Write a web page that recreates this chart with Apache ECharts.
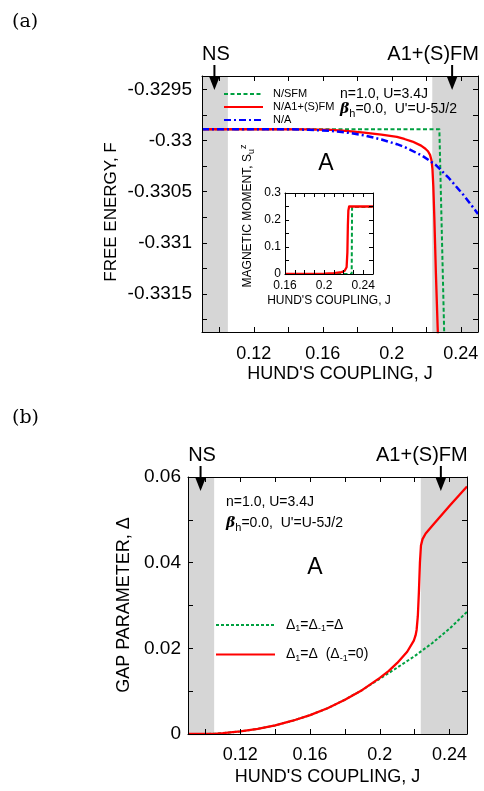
<!DOCTYPE html>
<html><head><meta charset="utf-8">
<script src="https://cdn.jsdelivr.net/npm/echarts@6/dist/echarts.min.js"></script>
<style>html,body{margin:0;padding:0;background:#fff}#c{width:484px;height:791px}</style>
</head><body><div id="c"></div>
<script>
// ---------- DATA ----------
// Panel (a): free energy vs Hund's coupling
const jA_SFM = [0.09, 0.2276, 0.2305];
const fA_SFM = [-0.32989, -0.32989, -0.33195];
const jA_A1 = [0.09, 0.13, 0.15, 0.165, 0.175, 0.184, 0.194, 0.203, 0.2073, 0.212, 0.217, 0.2195, 0.2210, 0.2222, 0.2230, 0.2236, 0.2241, 0.2247, 0.2256, 0.2266, 0.2270];
const fA_A1 = [-0.32989, -0.32989, -0.329892, -0.329897, -0.329908, -0.329924, -0.329942, -0.329965, -0.329985, -0.33001, -0.33005, -0.33008, -0.330105, -0.33014, -0.33019, -0.33028, -0.33045, -0.33076, -0.33130, -0.33182, -0.3320];
const jA_A = [0.09, 0.14, 0.152, 0.1648, 0.175, 0.184, 0.194, 0.203, 0.2073, 0.2178, 0.2256, 0.2332, 0.2420, 0.2486, 0.25];
const fA_A = [-0.32989, -0.32989, -0.329895, -0.329906, -0.329925, -0.329950, -0.329990, -0.330036, -0.330062, -0.330150, -0.330240, -0.330368, -0.330540, -0.330685, -0.330718];
// Inset: magnetic moment
const jIn_SFM = [0.16, 0.2282, 0.2286, 0.25];
const mIn_SFM = [0, 0, 0.248, 0.248];
const jIn_A1 = [0.16, 0.20, 0.21, 0.218, 0.221, 0.223, 0.2238, 0.2243, 0.2248, 0.2256, 0.25];
const mIn_A1 = [0, 0.001, 0.003, 0.007, 0.012, 0.025, 0.08, 0.18, 0.235, 0.25, 0.25];
// Panel (b): gap parameter
const jB_eq = [0.09, 0.10, 0.105, 0.11, 0.12, 0.13, 0.14, 0.15, 0.16, 0.17, 0.18, 0.19, 0.20, 0.21, 0.22, 0.23, 0.24, 0.25];
const dB_eq = [0, 0, 0.00005, 0.0002, 0.0006, 0.0012, 0.0020, 0.0031, 0.0044, 0.0060, 0.0080, 0.0103, 0.0129, 0.0155, 0.0182, 0.0212, 0.0246, 0.0285];
const jB_d1 = [0.09, 0.10, 0.105, 0.11, 0.12, 0.13, 0.14, 0.15, 0.16, 0.17, 0.18, 0.19, 0.20, 0.205, 0.21, 0.2157, 0.2195, 0.2205, 0.2211, 0.2218, 0.2224, 0.2230, 0.2236, 0.2245, 0.2263, 0.2307, 0.2403, 0.25];
const dB_d1 = [0, 0, 0.00005, 0.0002, 0.0006, 0.0012, 0.0020, 0.0031, 0.0044, 0.0060, 0.0080, 0.0103, 0.0131, 0.0147, 0.0166, 0.0192, 0.0218, 0.0230, 0.0243, 0.0275, 0.0330, 0.0400, 0.0440, 0.0455, 0.0468, 0.0489, 0.0534, 0.0578];
// shaded phase regions and arrow positions (J)
const shadeRanges = [[0.09, 0.105], [0.2235, 0.25]];
const arrowJ = [0.0972, 0.2350];
// axis ranges / ticks / labels
const xRange = [0.09, 0.25];
const xTicks = [0.10, 0.12, 0.14, 0.16, 0.18, 0.20, 0.22, 0.24];
const xLabels = [0.12, 0.16, 0.20, 0.24];
const yRangeA = [-0.33187, -0.32937];
const yTicksA = [-0.3295, -0.32975, -0.33, -0.33025, -0.3305, -0.33075, -0.331, -0.33125, -0.3315, -0.33175];
const yLabelsA = [-0.3295, -0.33, -0.3305, -0.331, -0.3315];
const xRangeIn = [0.16, 0.25];
const xTicksIn = [0.17, 0.18, 0.19, 0.20, 0.21, 0.22, 0.23, 0.24];
const xLabelsIn = [0.16, 0.20, 0.24];
const yRangeIn = [0, 0.3];
const yTicksIn = [0.05, 0.1, 0.15, 0.2, 0.25];
const yLabelsIn = [0, 0.1, 0.2, 0.3];
const yRangeB = [0, 0.06];
const yTicksB = [0.01, 0.02, 0.03, 0.04, 0.05];
const yLabelsB = [0, 0.02, 0.04, 0.06];
// series names
const NAME_SFM = 'N/SFM', NAME_A1 = 'N/A1+(S)FM', NAME_A = 'N/A';
const NAME_EQ = 'Δ1=Δ-1=Δ', NAME_D1 = 'Δ1=Δ (Δ-1=0)';

// ---------- STYLE ----------
const FONT = '"Liberation Sans", Arial, sans-serif';
const GREEN = '#00a040', RED = '#ff0000', BLUE = '#0000ff', SHADE = '#d6d6d6';
const fmt = v => String(parseFloat(Number(v).toFixed(6)));
const pts = (xs, ys) => xs.map((x, i) => [x, ys[i]]);

function mkAxis(gridIndex, range, ticks, labels, position, o) {
  o = o || {};
  return {
    type: 'value', gridIndex, min: range[0], max: range[1], position, z: 10,
    axisLine: {show: true, onZero: false, lineStyle: {color: '#000', width: 1}},
    axisTick: {show: true, inside: true, length: o.tl || 5, customValues: ticks, lineStyle: {color: '#000', width: 1}},
    axisLabel: labels ? {show: true, customValues: labels, formatter: fmt, color: '#000', fontFamily: FONT, fontSize: o.fs || 18, margin: o.margin == null ? 10 : o.margin} : {show: false},
    splitLine: {show: false},
    name: o.name || '', nameLocation: 'middle', nameGap: o.nameGap || 30,
    nameTextStyle: {color: '#000', fontFamily: FONT, fontSize: o.nfs || 18}
  };
}

const gA = {left: 202, top: 76, width: 276, height: 256};
const gIn = {left: 285, top: 193, width: 88, height: 81};
const gB = {left: 188, top: 477, width: 279, height: 257};

const chart = echarts.init(document.getElementById('c'), null, {renderer: 'canvas', width: 484, height: 791});

function shadeSeries(xi, yi) {
  return {type: 'line', name: 'shade' + xi, xAxisIndex: xi, yAxisIndex: yi, data: [], silent: true, z: 1,
    markArea: {silent: true, itemStyle: {color: SHADE}, data: shadeRanges.map(r => [{xAxis: r[0]}, {xAxis: r[1]}])}};
}
function lineSeries(name, xi, yi, data, color, width, type, z) {
  return {type: 'line', name, xAxisIndex: xi, yAxisIndex: yi, data, symbol: 'none', showSymbol: false,
    smooth: false, lineStyle: {color, width, type, join: 'round'}, itemStyle: {color}, z: z, animation: false};
}
const noSym = {color: 'rgba(0,0,0,0)', borderColor: 'rgba(0,0,0,0)', borderWidth: 0, opacity: 0};

const option = {
  animation: false,
  backgroundColor: '#fff',
  grid: [
    Object.assign({show: false}, gA),
    Object.assign({show: true, backgroundColor: '#fff', borderWidth: 0, z: 4}, gIn),
    Object.assign({show: false}, gB)
  ],
  xAxis: [
    mkAxis(0, xRange, xTicks, xLabels, 'bottom', {margin: 13, name: "HUND'S COUPLING, J", nameGap: 33}),
    mkAxis(0, xRange, xTicks, null, 'top'),
    mkAxis(1, xRangeIn, xTicksIn, xLabelsIn, 'bottom', {fs: 12, margin: 6, tl: 4, name: "HUND'S COUPLING, J", nameGap: 21, nfs: 12}),
    mkAxis(1, xRangeIn, xTicksIn, null, 'top', {tl: 4}),
    mkAxis(2, xRange, xTicks, xLabels, 'bottom', {margin: 12, name: "HUND'S COUPLING, J", nameGap: 34}),
    mkAxis(2, xRange, xTicks, null, 'top')
  ],
  yAxis: [
    mkAxis(0, yRangeA, yTicksA, yLabelsA, 'left', {margin: 10, fs: 19}),
    mkAxis(0, yRangeA, yTicksA, null, 'right'),
    mkAxis(1, yRangeIn, yTicksIn, yLabelsIn, 'left', {fs: 12, margin: 4, tl: 4}),
    mkAxis(1, yRangeIn, yTicksIn, null, 'right', {tl: 4}),
    mkAxis(2, yRangeB, yTicksB, yLabelsB, 'left', {margin: 7, fs: 19}),
    mkAxis(2, yRangeB, yTicksB, null, 'right')
  ],
  legend: [
    {data: [NAME_SFM, NAME_A1, NAME_A], orient: 'vertical', left: 223, top: 88, itemWidth: 39, itemHeight: 10, itemGap: 1,
     selectedMode: false, padding: 0, itemStyle: noSym,
     textStyle: {fontFamily: FONT, fontSize: 11, color: '#000', lineHeight: 12, padding: [0, 0, 0, 5]}},
    {data: [NAME_EQ, NAME_D1], orient: 'vertical', left: 215, top: 618, itemWidth: 59, itemHeight: 10, itemGap: 14,
     selectedMode: false, padding: 0, itemStyle: noSym,
     formatter: n => n === NAME_EQ ? '{t|Δ}{s|1}{t|=Δ}{s|-1}{t|=Δ}' : '{t|Δ}{s|1}{t|=Δ  (Δ}{s|-1}{t|=0)}',
     textStyle: {fontFamily: FONT, fontSize: 14, color: '#000', padding: [0, 0, 0, 6],
       rich: {t: {fontFamily: FONT, fontSize: 14, color: '#000'}, s: {fontFamily: FONT, fontSize: 9, color: '#000', padding: [8, 0, 0, 0]}}}}
  ],
  series: [
    shadeSeries(0, 0),
    lineSeries(NAME_SFM, 0, 0, pts(jA_SFM, fA_SFM), GREEN, 2, [4, 2.5], 3),
    lineSeries(NAME_A1, 0, 0, pts(jA_A1, fA_A1), RED, 2.3, 'solid', 4),
    lineSeries(NAME_A, 0, 0, pts(jA_A, fA_A), BLUE, 2.5, [7, 3, 2, 3], 5),
    lineSeries('inset ' + NAME_SFM, 2, 2, pts(jIn_SFM, mIn_SFM), GREEN, 2, [4, 2.5], 6),
    lineSeries('inset ' + NAME_A1, 2, 2, pts(jIn_A1, mIn_A1), RED, 2.3, 'solid', 7),
    shadeSeries(4, 4),
    lineSeries(NAME_EQ, 4, 4, pts(jB_eq, dB_eq), GREEN, 2, [3, 2], 3),
    lineSeries(NAME_D1, 4, 4, pts(jB_d1, dB_d1), RED, 2.3, 'solid', 4)
  ]
};
chart.setOption(option);

// ---------- annotations ----------
function txt(x, y, text, size, extra) {
  return Object.assign({type: 'text', x, y, z: 100,
    style: Object.assign({text, fontFamily: FONT, fontSize: size, fill: '#000', align: 'left', verticalAlign: 'middle'}, (extra && extra.style) || {})},
    extra ? {rotation: extra.rotation || 0} : {});
}
const betaRich = {
  b: {fontFamily: '"DejaVu Serif", serif', fontSize: 14, fontWeight: 'bold', fontStyle: 'italic', color: '#000'},
  s: {fontFamily: FONT, fontSize: 11, color: '#000', padding: [9, 0, 0, 0]},
  t: {fontFamily: FONT, fontSize: 14, color: '#000'}
};
const betaText = "{b|β}{s|h}{t|=0.0,  U'=U-5J/2}";
const g = [];
g.push(txt(12, 22, '(a)', 19, {style: {fontFamily: '"DejaVu Serif", serif'}}));
g.push(txt(12, 418, '(b)', 19, {style: {fontFamily: '"DejaVu Serif", serif'}}));
g.push(txt(111, 212, 'FREE ENERGY, F', 17, {rotation: Math.PI / 2, style: {align: 'center'}}));
g.push(txt(124, 605, 'GAP PARAMETER, Δ', 18, {rotation: Math.PI / 2, style: {align: 'center'}}));
g.push(txt(248, 216, '{t|MAGNETIC MOMENT, S}{s|u}{p|z}', 12, {rotation: Math.PI / 2, style: {align: 'center',
  rich: {t: {fontFamily: FONT, fontSize: 12, color: '#000'}, s: {fontFamily: FONT, fontSize: 9, color: '#000', padding: [7, 0, 0, 0]}, p: {fontFamily: FONT, fontSize: 9, color: '#000', padding: [0, 0, 9, 0]}}}}));
g.push(txt(340, 94, 'n=1.0, U=3.4J', 14));
g.push(txt(340, 109, betaText, 14, {style: {rich: betaRich}}));
g.push(txt(226, 502, 'n=1.0, U=3.4J', 14));
g.push(txt(226, 523, betaText, 14, {style: {rich: betaRich}}));
g.push(txt(326, 164, 'A', 23, {style: {align: 'center'}}));
g.push(txt(315, 568, 'A', 23, {style: {align: 'center'}}));

[[0, gA.top], [4, gB.top]].forEach(([xi, top]) => {
  arrowJ.forEach((j, k) => {
    const x = chart.convertToPixel({xAxisIndex: xi}, j);
    g.push({type: 'line', z: 100, shape: {x1: x, y1: top - 11, x2: x, y2: top + 2}, style: {stroke: '#000', lineWidth: 2}});
    g.push({type: 'polygon', z: 100, shape: {points: [[x - 5.5, top], [x + 5.5, top], [x, top + 14]]}, style: {fill: '#000'}});
    if (k === 0) g.push(txt(x + 1.5, top - 22, 'NS', 20, {style: {align: 'center'}}));
    else g.push(txt(x - 19, top - 22, 'A1+(S)FM', 20, {style: {align: 'center'}}));
  });
});
chart.setOption({graphic: g});
</script></body></html>
